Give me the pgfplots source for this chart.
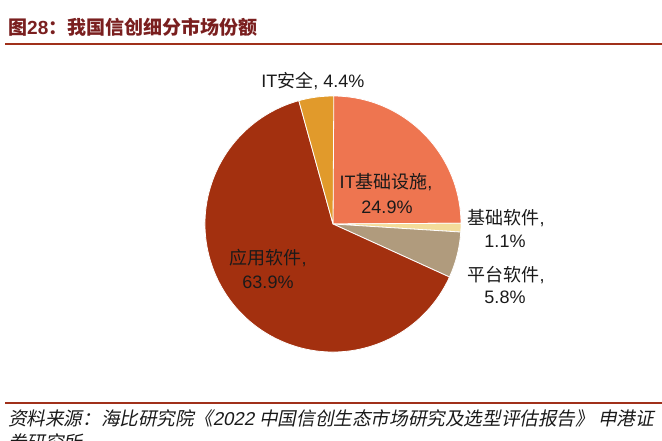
\documentclass[border=0pt]{standalone}
\usepackage{pgfplots}
\pgfplotsset{compat=1.18}
\usepackage{fontspec}
\setmainfont{Liberation Sans}
\newfontfamily\cjk{Noto Sans CJK SC}
\newfontfamily\cjkit[FakeSlant=0.2]{Noto Sans CJK SC}
\newfontfamily\latit[FakeSlant=0.2]{Liberation Sans}

\definecolor{titlered}{HTML}{7A1F1F}
\definecolor{rulered}{HTML}{A0301A}
\definecolor{cA}{HTML}{EE7550}
\definecolor{cB}{HTML}{F3DC9A}
\definecolor{cC}{HTML}{B09B7D}
\definecolor{cD}{HTML}{A3300F}
\definecolor{cE}{HTML}{E19A2B}
\definecolor{txt}{HTML}{1A1A1A}

\begin{document}
\begin{tikzpicture}
\useasboundingbox (0,0) rectangle (662pt,441pt);
\begin{axis}[
  at={(0,0)}, anchor=south west,
  scale only axis, width=662pt, height=441pt,
  xmin=0, xmax=662, ymin=0, ymax=441,
  hide axis, clip=false,
]
% pie: shares in percent, clockwise from 12 o'clock
\def\cx{333}\def\cy{217}\def\rr{128}
\gdef\ang{90}
\foreach \v/\c in {24.9/cA, 1.1/cB, 5.8/cC, 63.9/cD, 4.4/cE} {
  \pgfmathsetmacro\angb{\ang-3.6*\v}
  \pgfmathsetmacro\px{\cx+\rr*cos(\ang)}
  \pgfmathsetmacro\py{\cy+\rr*sin(\ang)}
  \edef\temp{\noexpand\fill[\c, draw=white, line width=0.8pt, line join=round]
    (axis cs:\cx,\cy) -- (axis cs:\px,\py)
    arc[start angle=\ang, end angle=\angb, radius=\rr pt] -- cycle;}
  \temp
  \xdef\ang{\angb}
}

% slice labels
\begin{scope}[every node/.style={text=txt, font=\fontsize{18}{21}\selectfont, inner sep=0pt}]
\node at (axis cs:386,259) {IT{\cjk 基础设施},};
\node at (axis cs:387,234) {24.9\%};
\node at (axis cs:506,223) {{\cjk 基础软件},};
\node at (axis cs:505,200) {1.1\%};
\node at (axis cs:506,166) {{\cjk 平台软件},};
\node at (axis cs:505,144) {5.8\%};
\node at (axis cs:268,183) {{\cjk 应用软件},};
\node at (axis cs:268,159) {63.9\%};
\node at (axis cs:313,360) {IT{\cjk 安全}, 4.4\%};
\end{scope}

% title and rules
\node[anchor=west, inner sep=0pt, text=titlered, font=\fontsize{19}{22}\selectfont\bfseries]
  at (axis cs:8,414) {{\cjk 图}28{\cjk ：我国信创细分市场份额}};
\draw[rulered, line width=2pt] (axis cs:5,397) -- (axis cs:662,397);
\draw[rulered, line width=1.5pt] (axis cs:5,38) -- (axis cs:662,38);

% source
\node[anchor=west, inner sep=0pt, text=txt, font=\fontsize{18.6}{21}\selectfont]
  at (axis cs:8,23) {{\cjkit 资料来源：海比研究院《}{\latit 2022} {\cjkit 中国信创生态市场研究及选型评估报告》 申港证}};
\node[anchor=west, inner sep=0pt, text=txt, font=\fontsize{18.6}{21}\selectfont]
  at (axis cs:8,-1) {{\cjkit 券研究所}};
\end{axis}
\end{tikzpicture}
\end{document}
